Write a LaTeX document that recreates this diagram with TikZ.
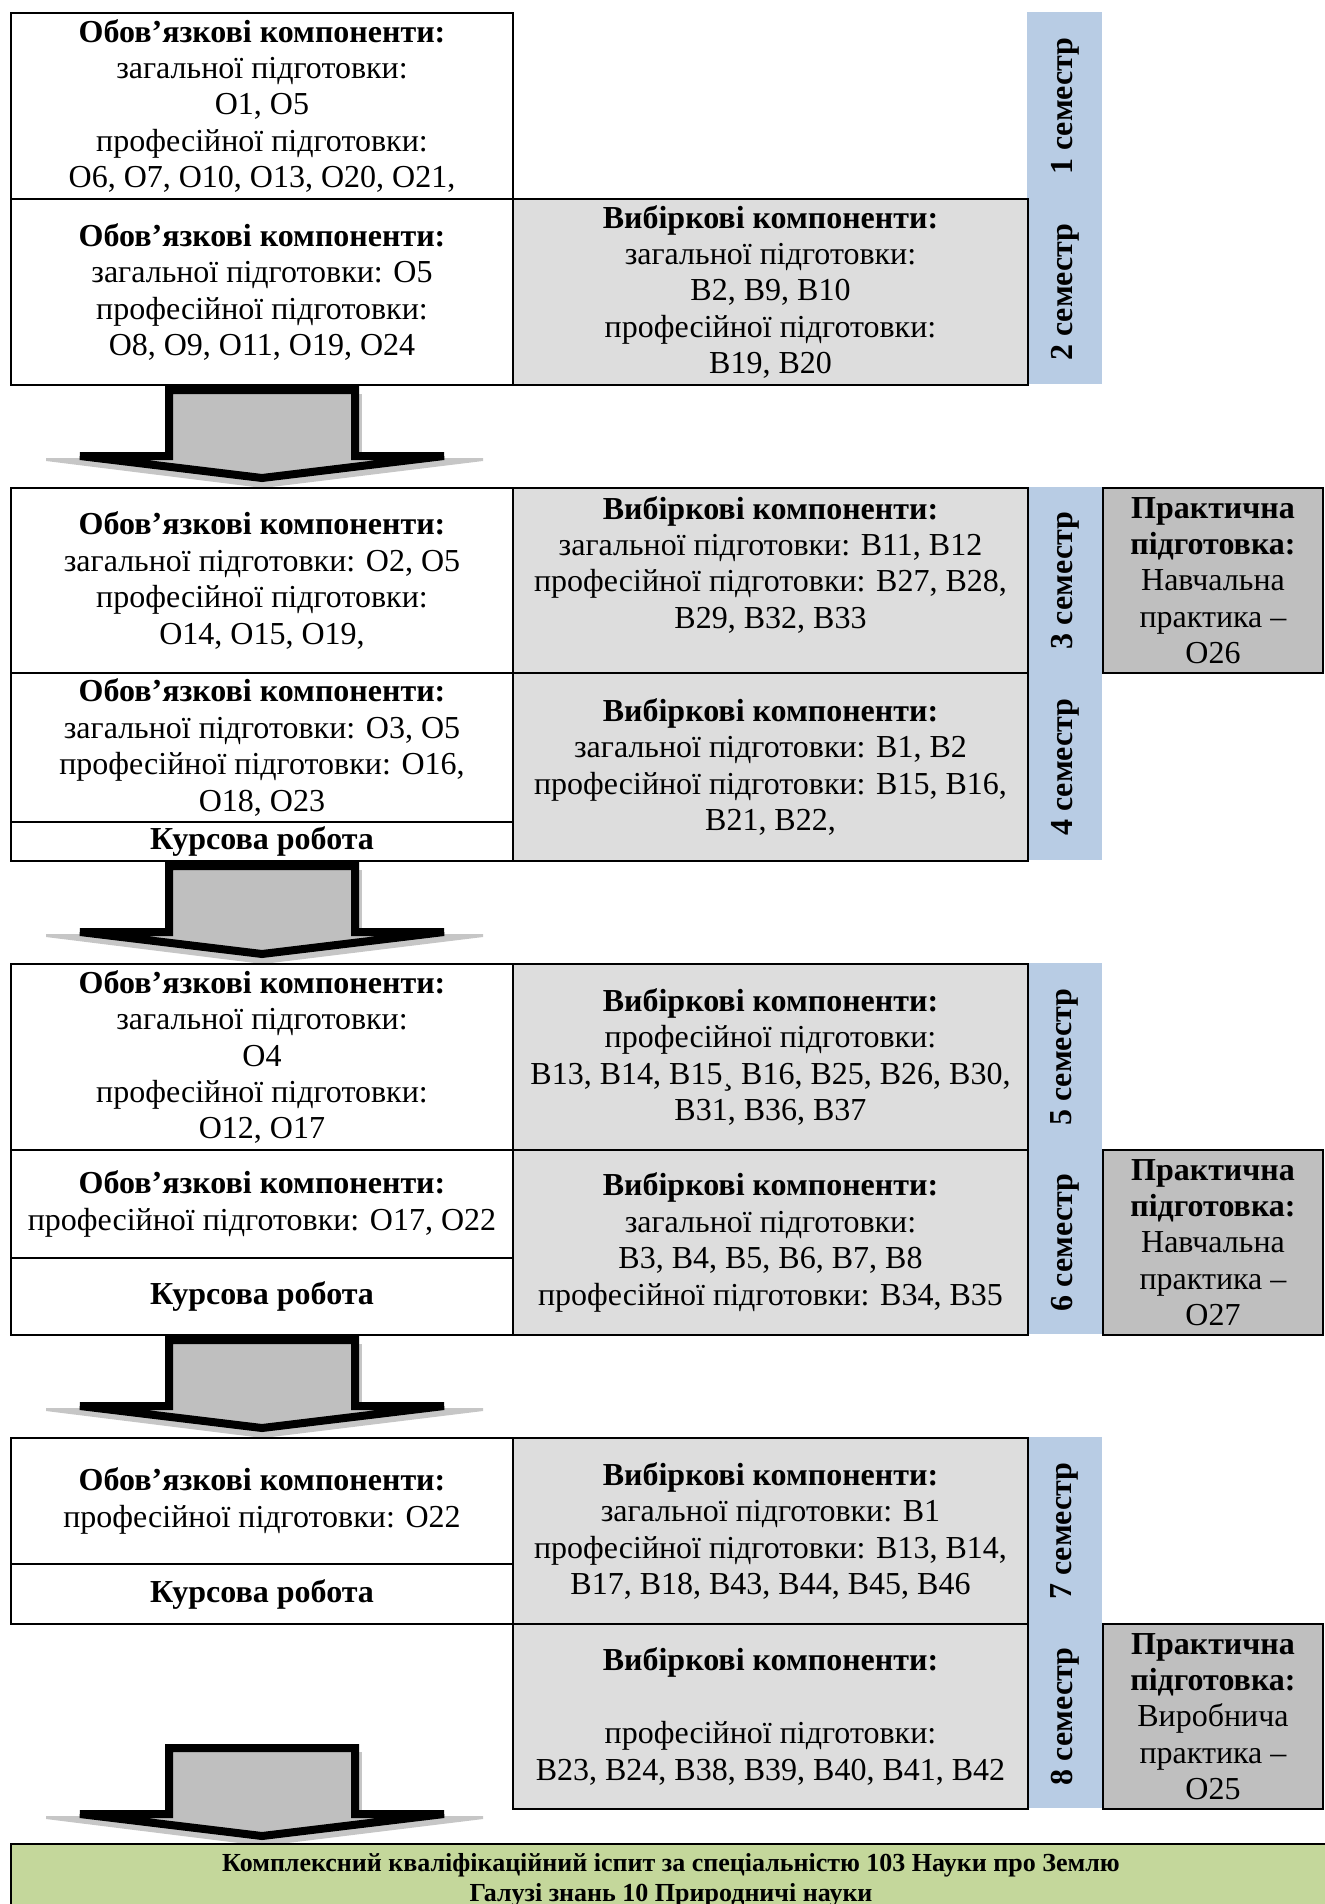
\documentclass[tikz,border=0pt]{standalone}
\usepackage{fontspec}
\setmainfont{Liberation Serif}
\usetikzlibrary{calc,positioning}
\definecolor{cVyb}{HTML}{DDDDDD}
\definecolor{cPrakt}{HTML}{BFBFBF}
\definecolor{cSem}{HTML}{B8CCE4}
\definecolor{cExam}{HTML}{C4D79B}
\definecolor{cArrow}{HTML}{BFBFBF}
\definecolor{cShadow}{HTML}{C6C6C6}
\tikzset{
  cell/.style    ={draw,line width=1pt,anchor=north west,inner sep=0pt,align=center,
                   font=\fontsize{16}{18.2}\selectfont},
  obov/.style    ={cell,fill=white,minimum width=251pt},
  vyb/.style     ={cell,fill=cVyb,minimum width=257.5pt},
  prakt/.style   ={cell,fill=cPrakt,minimum width=110pt},
  sembar/.style  ={fill=cSem,anchor=north west,minimum width=37.5pt,inner sep=0pt},
  semlabel/.style={rotate=90,inner sep=0pt,font=\fontsize{16}{18.2}\selectfont\bfseries},
  exam/.style    ={draw,line width=1pt,fill=cExam,anchor=north west,inner sep=0pt,align=center,
                   minimum width=660pt,minimum height=36pt,font=\fontsize{13}{15}\selectfont\bfseries},
}
\newcommand{\obovhead}{\textbf{Обов’язкові компоненти:}}
\newcommand{\vybhead}{\textbf{Вибіркові компоненти:}}
\newcommand{\kursova}{\textbf{Курсова робота}}
\newcommand{\prakthead}{\textbf{Практична}\\ \textbf{підготовка:}}
\newcommand{\stagearrow}[1]{%
  \begin{scope}[shift={(#1)}]
    \fill[cShadow] (-216,72) -- (221,72) -- (221,75) -- (1,102) -- (-216,75) -- cycle;
    \fill[cShadow] (96,8) rectangle (100,70);
    \filldraw[fill=cArrow,draw=black,line width=4pt]
      (-93,4) -- (93,4) -- (93,70) -- (182,70) -- (0,92) -- (-182,70) -- (-93,70) -- cycle;
  \end{scope}}

\begin{document}
\begin{tikzpicture}[x=0.5pt,y=-0.5pt]
  \useasboundingbox (0,0) rectangle (1324,1904);

  \node[sembar,minimum height=186pt] (s12) at (1027,12) {};
  \node[obov,minimum height=93pt] (o1) at (10,12)
    {\obovhead\\ загальної підготовки:\\ О1, О5\\ професійної підготовки:\\ О6, О7, О10, О13, О20, О21,};
  \node[obov,minimum height=93pt] (o2) at (10,198)
    {\obovhead\\ загальної підготовки: О5\\ професійної підготовки:\\ О8, О9, О11, О19, О24};
  \node[vyb,minimum height=93pt] (v2) at (512,198)
    {\vybhead\\ загальної підготовки:\\ В2, В9, В10\\ професійної підготовки:\\ В19, В20};
  \node[semlabel] (l1) at (s12 |- o1) {1 семестр};
  \node[semlabel] (l2) at (s12 |- o2) {2 семестр};

  \stagearrow{o2.south}

  \node[sembar,minimum height=186.5pt] (s34) at (1027,487) {};
  \node[obov,minimum height=92.5pt] (o3) at (10,487)
    {\obovhead\\ загальної підготовки: О2, О5\\ професійної підготовки:\\ О14, О15, О19,};
  \node[vyb,minimum height=92.5pt] (v3) at (512,487)
    {\vybhead\\ загальної підготовки: В11, В12\\ професійної підготовки: В27, В28,\\ В29, В32, В33\\ ~};
  \node[prakt,minimum height=92.5pt] (p3) at (1102,487)
    {\prakthead\\ Навчальна\\ практика –\\ О26};
  \node[obov,minimum height=74.5pt] (o4) at (10,672)
    {\obovhead\\ загальної підготовки: О3, О5\\ професійної підготовки: О16,\\ О18, О23};
  \node[obov,minimum height=19.5pt] (k4) at (10,821) {\kursova};
  \node[vyb,minimum height=94pt] (v4) at (512,672)
    {\vybhead\\ загальної підготовки: В1, В2\\ професійної підготовки: В15, В16,\\ В21, В22,};
  \node[semlabel] (l3) at (s34 |- o3) {3 семестр};
  \node[semlabel] (l4) at (s34 |- v4) {4 семестр};

  \stagearrow{k4.south}

  \node[sembar,minimum height=185.5pt] (s56) at (1027,963) {};
  \node[obov,minimum height=93pt] (o5) at (10,963)
    {\obovhead\\ загальної підготовки:\\ О4\\ професійної підготовки:\\ О12, О17};
  \node[vyb,minimum height=93pt] (v5) at (512,963)
    {\vybhead\\ професійної підготовки:\\ В13, В14, В15¸ В16, В25, В26, В30,\\ В31, В36, В37};
  \node[obov,minimum height=54pt] (o6) at (10,1149)
    {\obovhead\\ професійної підготовки: О17, О22};
  \node[obov,minimum height=38.5pt] (k6) at (10,1257) {\kursova};
  \node[vyb,minimum height=92.5pt] (v6) at (512,1149)
    {\vybhead\\ загальної підготовки:\\ В3, В4, В5, В6, В7, В8\\ професійної підготовки: В34, В35};
  \node[prakt,minimum height=92.5pt] (p6) at (1102,1149)
    {\prakthead\\ Навчальна\\ практика –\\ О27};
  \node[semlabel] (l5) at (s56 |- v5) {5 семестр};
  \node[semlabel] (l6) at (s56 |- v6) {6 семестр};

  \stagearrow{k6.south}

  \node[sembar,minimum height=185.5pt] (s78) at (1027,1437) {};
  \node[obov,minimum height=63pt] (o7) at (10,1437)
    {\obovhead\\ професійної підготовки: О22};
  \node[obov,minimum height=30pt] (k7) at (10,1563) {\kursova};
  \node[vyb,minimum height=93pt] (v7) at (512,1437)
    {\vybhead\\ загальної підготовки: В1\\ професійної підготовки: В13, В14,\\ В17, В18, В43, В44, В45, В46};
  \node[vyb,minimum height=92.5pt] (v8) at (512,1623)
    {\vybhead\\ ~\\ професійної підготовки:\\ В23, В24, В38, В39, В40, В41, В42};
  \node[prakt,minimum height=92.5pt] (p8) at (1102,1623)
    {\prakthead\\ Виробнича\\ практика –\\ О25};
  \node[semlabel] (l7) at (s78 |- v7) {7 семестр};
  \node[semlabel] (l8) at (s78 |- v8) {8 семестр};

  \coordinate (a4) at ($(k7.south)+(0,119)$);
  \stagearrow{a4}

  \node[exam] (ex) at (10,1843)
    {Комплексний кваліфікаційний іспит за спеціальністю 103 Науки про Землю\\
     Галузі знань 10 Природничі науки};
\end{tikzpicture}
\end{document}
